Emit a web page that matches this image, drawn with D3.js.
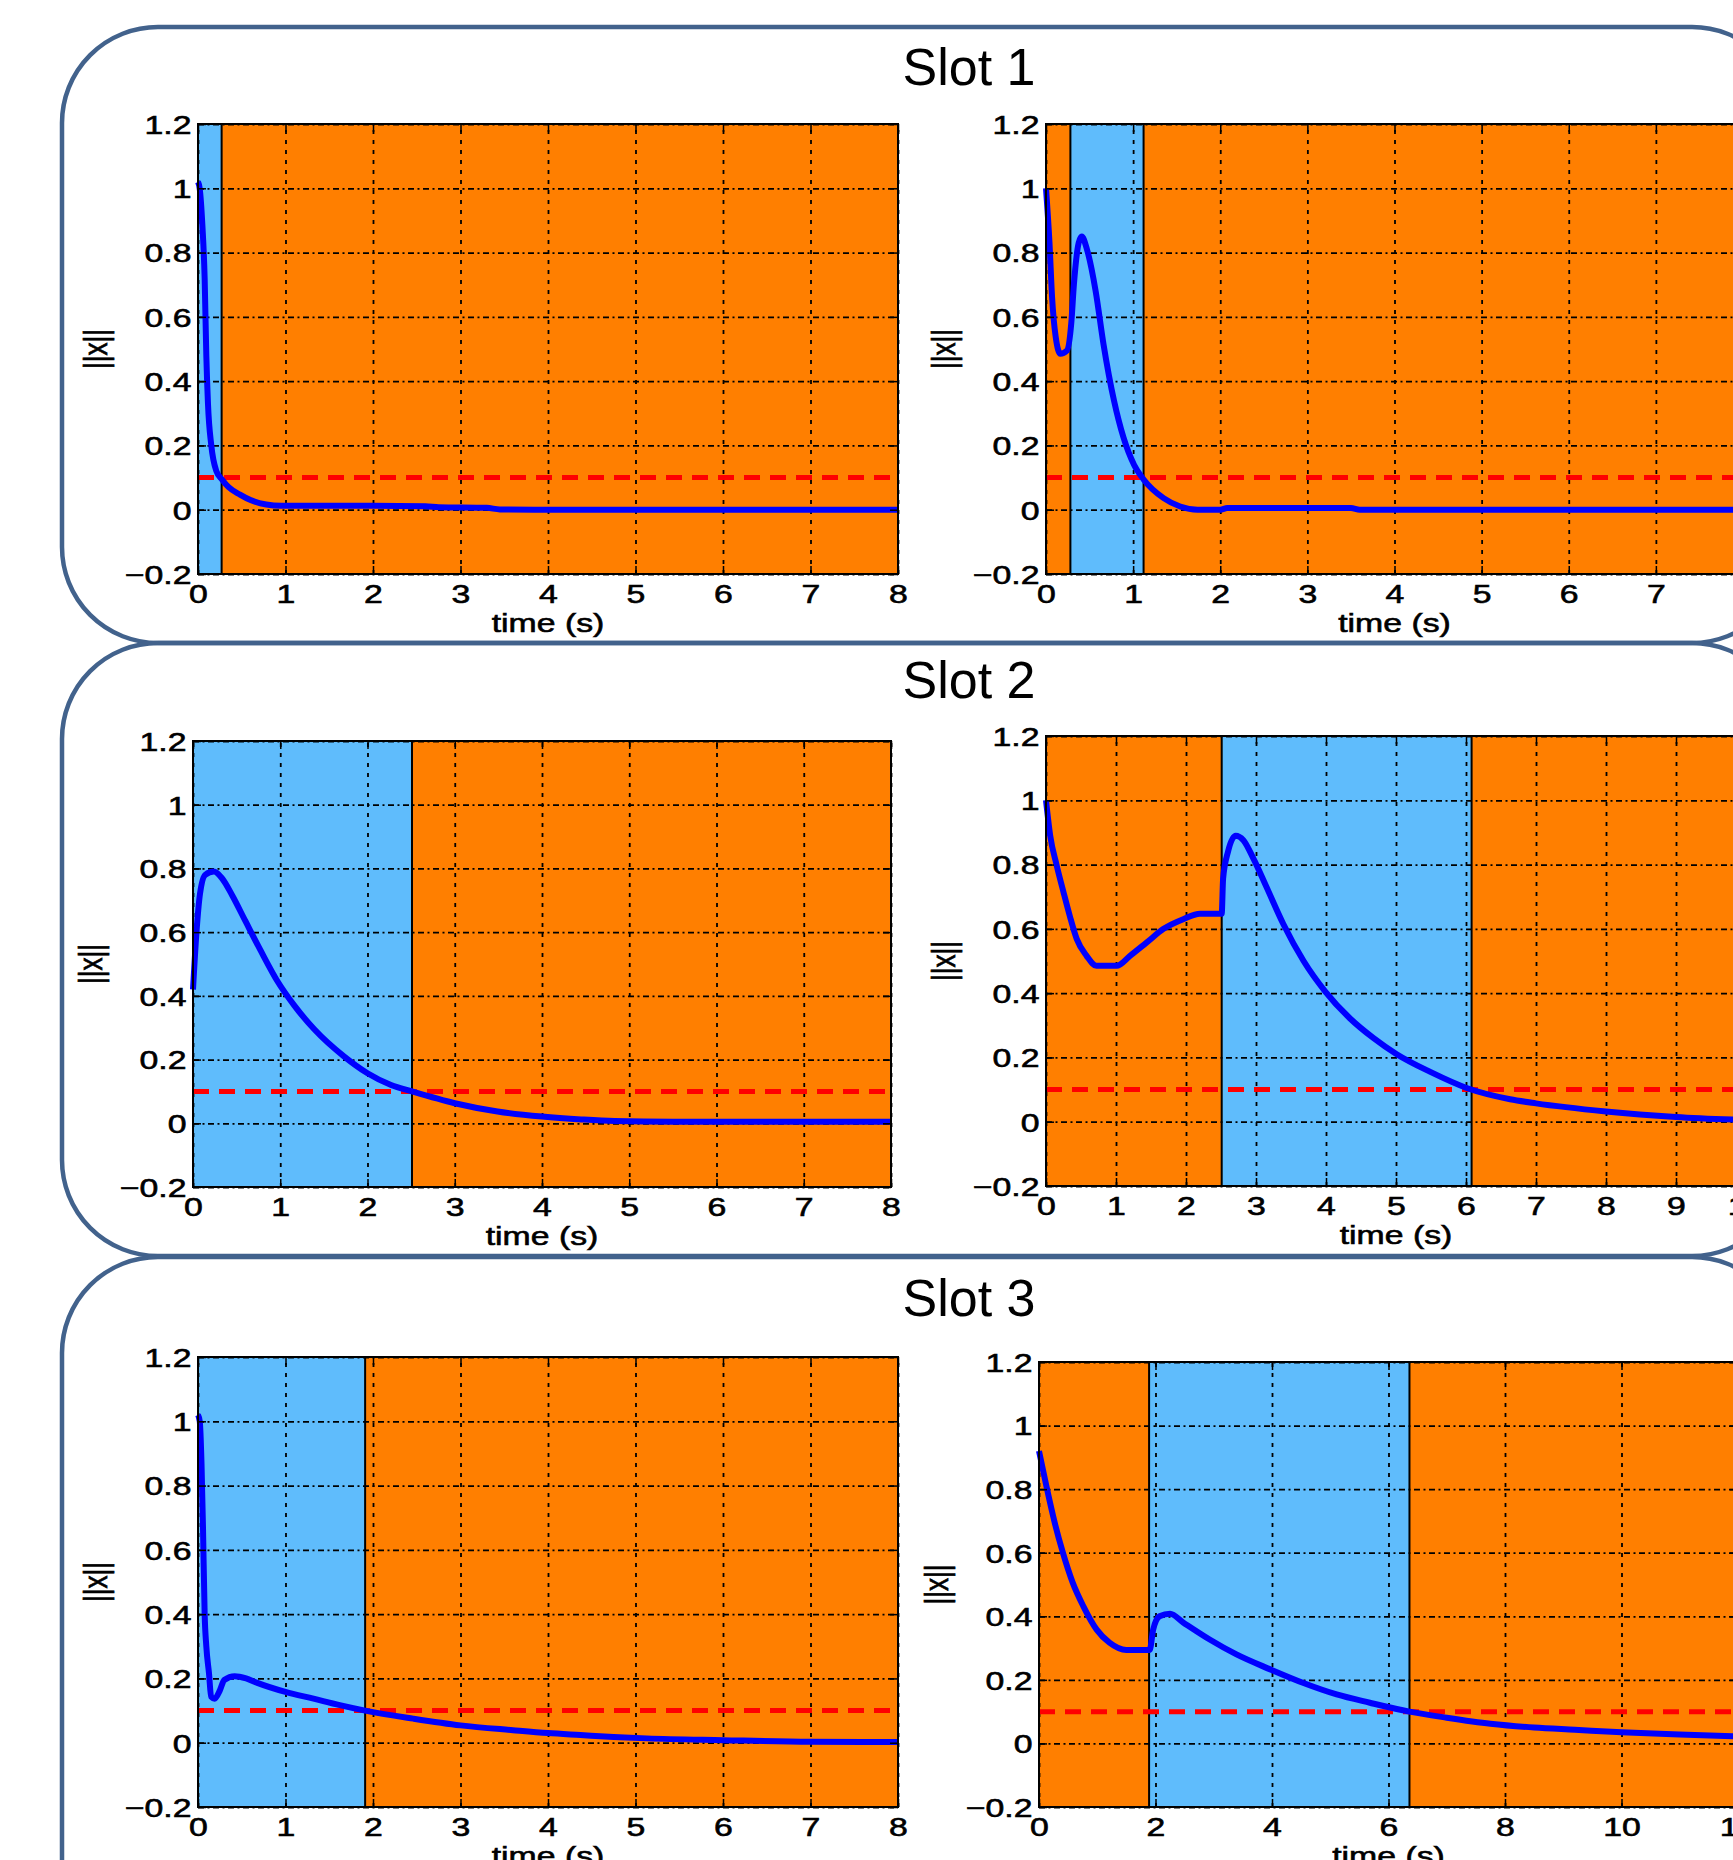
<!DOCTYPE html>
<html>
<head>
<meta charset="utf-8">
<script src="https://cdn.jsdelivr.net/npm/d3@7"></script>
<style>
  body { margin: 0; background: #fff; }
  text { font-family: "Liberation Sans", Arial, sans-serif; }
</style>
</head>
<body>
<div id="chart"></div>
<script>
// values: three slots, two runs each (a = left, b = right)
const slotTitles = ["Slot 1", "Slot 2", "Slot 3"];
const yTickValues = [-0.2, 0, 0.2, 0.4, 0.6, 0.8, 1, 1.2];
const yTickLabels = ["\u22120.2", "0", "0.2", "0.4", "0.6", "0.8", "1", "1.2"];
const threshold = 0.1;

// mode 1 = light blue band, mode 2 = orange band
const s1aXTicks = [0, 1, 2, 3, 4, 5, 6, 7, 8];
const s1aModes = [1, 2];
const s1aSwitch = [0.27];
const s1aTime = [0, 0.019, 0.05, 0.076, 0.095, 0.114, 0.152, 0.21, 0.274, 0.35, 0.48, 0.6, 0.78, 0.95, 1.5, 2.0, 2.6, 2.75, 3.3, 3.45, 4, 5, 6, 7, 8];
const s1aNorm = [1.02, 1.0, 0.885, 0.72, 0.48, 0.33, 0.2, 0.12, 0.094, 0.07, 0.047, 0.03, 0.016, 0.012, 0.012, 0.012, 0.011, 0.008, 0.006, 0.001, 0, 0, 0, 0, 0];

const s1bXTicks = [0, 1, 2, 3, 4, 5, 6, 7, 8];
const s1bModes = [2, 1, 2];
const s1bSwitch = [0.28, 1.12];
const s1bTime = [0, 0.04, 0.07, 0.11, 0.165, 0.24, 0.29, 0.32, 0.375, 0.41, 0.47, 0.57, 0.66, 0.78, 0.89, 1.01, 1.12, 1.35, 1.54, 1.74, 2.0, 2.08, 3.5, 3.6, 5, 8];
const s1bNorm = [1.0, 0.83, 0.66, 0.54, 0.485, 0.495, 0.58, 0.70, 0.83, 0.85, 0.81, 0.68, 0.515, 0.34, 0.224, 0.14, 0.094, 0.036, 0.01, 0.0, 0.0, 0.005, 0.005, 0.0, 0, 0];

const s2aXTicks = [0, 1, 2, 3, 4, 5, 6, 7, 8];
const s2aModes = [1, 2];
const s2aSwitch = [2.51];
const s2aTime = [0, 0.04, 0.08, 0.14, 0.24, 0.33, 0.45, 0.6, 0.77, 0.97, 1.16, 1.39, 1.73, 2.0, 2.27, 2.51, 3.0, 3.49, 4.0, 4.45, 4.83, 5.5, 6, 7, 8];
const s2aNorm = [0.42, 0.60, 0.72, 0.78, 0.79, 0.77, 0.715, 0.635, 0.545, 0.445, 0.37, 0.295, 0.21, 0.157, 0.12, 0.10, 0.063, 0.037, 0.021, 0.012, 0.007, 0.005, 0.005, 0.005, 0.005];

const s2bXTicks = [0, 1, 2, 3, 4, 5, 6, 7, 8, 9, 10];
const s2bModes = [2, 1, 2];
const s2bSwitch = [2.51, 6.08];
const s2bTime = [0, 0.06, 0.15, 0.25, 0.34, 0.44, 0.58, 0.72, 1.01, 1.2, 1.44, 1.68, 1.96, 2.2, 2.51, 2.53, 2.6, 2.71, 2.82, 2.96, 3.15, 3.39, 3.68, 3.99, 4.34, 4.68, 5.01, 5.49, 6.01, 6.63, 7, 8, 9, 10];
const s2bNorm = [1.0, 0.89, 0.80, 0.714, 0.64, 0.568, 0.516, 0.485, 0.485, 0.516, 0.558, 0.60, 0.63, 0.647, 0.647, 0.756, 0.84, 0.89, 0.876, 0.82, 0.73, 0.615, 0.50, 0.405, 0.322, 0.26, 0.21, 0.155, 0.105, 0.07, 0.057, 0.032, 0.015, 0.005];

const s3aXTicks = [0, 1, 2, 3, 4, 5, 6, 7, 8];
const s3aModes = [1, 2];
const s3aSwitch = [1.91];
const s3aTime = [0, 0.02, 0.04, 0.057, 0.076, 0.095, 0.126, 0.15, 0.19, 0.25, 0.3, 0.42, 0.55, 0.67, 1.0, 1.32, 1.62, 1.91, 2.46, 3.0, 3.6, 4.0, 4.37, 4.75, 5.13, 6, 7, 8];
const s3aNorm = [1.02, 1.0, 0.87, 0.67, 0.40, 0.30, 0.215, 0.143, 0.137, 0.163, 0.195, 0.207, 0.2, 0.187, 0.158, 0.137, 0.117, 0.10, 0.075, 0.054, 0.039, 0.03, 0.024, 0.018, 0.0135, 0.008, 0.003, 0.002];

const s3bXTicks = [0, 2, 4, 6, 8, 10, 12];
const s3bModes = [2, 1, 2];
const s3bSwitch = [1.89, 6.36];
const s3bTime = [0, 0.126, 0.27, 0.41, 0.58, 0.76, 0.99, 1.21, 1.5, 1.9, 1.96, 2.07, 2.25, 2.48, 2.93, 3.39, 3.97, 4.54, 5.11, 5.68, 6.36, 7.0, 7.75, 8.5, 9.2, 10, 11, 12];
const s3bNorm = [0.92, 0.81, 0.694, 0.60, 0.505, 0.432, 0.358, 0.317, 0.294, 0.294, 0.358, 0.40, 0.408, 0.38, 0.327, 0.28, 0.233, 0.19, 0.154, 0.128, 0.10, 0.081, 0.062, 0.05, 0.043, 0.035, 0.028, 0.022];

const panels = [
  { xTicks: s1aXTicks, modes: s1aModes, sw: s1aSwitch, t: s1aTime, v: s1aNorm },
  { xTicks: s1bXTicks, modes: s1bModes, sw: s1bSwitch, t: s1bTime, v: s1bNorm },
  { xTicks: s2aXTicks, modes: s2aModes, sw: s2aSwitch, t: s2aTime, v: s2aNorm },
  { xTicks: s2bXTicks, modes: s2bModes, sw: s2bSwitch, t: s2bTime, v: s2bNorm },
  { xTicks: s3aXTicks, modes: s3aModes, sw: s3aSwitch, t: s3aTime, v: s3aNorm },
  { xTicks: s3bXTicks, modes: s3bModes, sw: s3bSwitch, t: s3bTime, v: s3bNorm }
];

// where each axes box sits on the page
const frames = [
  { left: 198, top: 124, right: 898, bottom: 574 },
  { left: 1046, top: 124, right: 1743, bottom: 574 },
  { left: 193, top: 741, right: 891, bottom: 1187 },
  { left: 1046, top: 736, right: 1746, bottom: 1186 },
  { left: 198, top: 1357, right: 898, bottom: 1807 },
  { left: 1039, top: 1362, right: 1738, bottom: 1807 }
];
const boxes = [{ y: 27, h: 616 }, { y: 643, h: 613 }, { y: 1257, h: 700 }];
const titleY = [85, 698, 1316];

const modeColor = { 1: "#5fbcfc", 2: "#ff7f00" };
const stretch = 1.3;   // the matlab figures were widened on the slide

const svg = d3.select("#chart").append("svg")
  .attr("width", 1733)
  .attr("height", 1860);

// rounded slot boxes
svg.selectAll(".slot")
  .data(boxes)
  .enter().append("rect")
  .attr("x", 62)
  .attr("y", d => d.y)
  .attr("width", 1726)
  .attr("height", d => d.h)
  .attr("rx", 96)
  .attr("fill", "none")
  .attr("stroke", "#42628c")
  .attr("stroke-width", 4.5);

svg.selectAll(".title")
  .data(slotTitles)
  .enter().append("text")
  .attr("x", 969)
  .attr("y", (d, i) => titleY[i])
  .attr("text-anchor", "middle")
  .style("font-size", "52px")
  .text(d => d);

panels.forEach((p, i) => {
  const f = frames[i];
  const xMax = d3.max(p.xTicks);
  const x = d3.scaleLinear().domain([0, xMax]).range([f.left, f.right]);
  const y = d3.scaleLinear().domain([-0.2, 1.2]).range([f.bottom, f.top]);
  const h = f.bottom - f.top, w = f.right - f.left;
  const g = svg.append("g");

  // mode bands
  const edges = [0, ...p.sw, xMax];
  g.selectAll(".band")
    .data(p.modes)
    .enter().append("rect")
    .attr("x", (m, j) => x(edges[j]))
    .attr("width", (m, j) => x(edges[j + 1]) - x(edges[j]))
    .attr("y", y(1.2))
    .attr("height", h)
    .attr("fill", m => modeColor[m]);

  // dotted grid
  g.append("g")
    .attr("transform", `translate(0,${f.bottom})`)
    .call(d3.axisBottom(x).tickValues(p.xTicks).tickSize(-h).tickFormat(""))
    .call(a => a.select(".domain").remove())
    .selectAll("line")
    .attr("stroke", "#000")
    .attr("stroke-width", 1.8)
    .attr("stroke-dasharray", "4,6");
  g.append("g")
    .attr("transform", `translate(${f.left},0)`)
    .call(d3.axisLeft(y).tickValues(yTickValues).tickSize(-w).tickFormat(""))
    .call(a => a.select(".domain").remove())
    .selectAll("line")
    .attr("stroke", "#000")
    .attr("stroke-width", 1.8)
    .attr("stroke-dasharray", "6,3.5,2,3.5");

  // switching instants
  g.selectAll(".switch")
    .data(p.sw)
    .enter().append("line")
    .attr("x1", d => x(d)).attr("x2", d => x(d))
    .attr("y1", y(1.2)).attr("y2", y(-0.2))
    .attr("stroke", "#000")
    .attr("stroke-width", 2);

  // threshold
  g.append("line")
    .attr("x1", x(0)).attr("x2", x(xMax))
    .attr("y1", y(threshold)).attr("y2", y(threshold))
    .attr("stroke", "#ff0000")
    .attr("stroke-width", 5)
    .attr("stroke-dasharray", "16,10");

  // ||x|| trajectory
  const pts = p.t.map((t, k) => ({ t: t, v: p.v[k] }));
  g.append("path")
    .datum(pts)
    .attr("fill", "none")
    .attr("stroke", "#0000ff")
    .attr("stroke-width", 6)
    .attr("stroke-linejoin", "round")
    .attr("d", d3.line().x(d => x(d.t)).y(d => y(d.v)).curve(d3.curveMonotoneX));

  // box + inward ticks
  g.append("rect")
    .attr("x", f.left).attr("y", f.top)
    .attr("width", w).attr("height", h)
    .attr("fill", "none")
    .attr("stroke", "#000")
    .attr("stroke-width", 2);

  const bottomAx = g.append("g")
    .attr("transform", `translate(0,${f.bottom})`)
    .call(d3.axisBottom(x).tickValues(p.xTicks).tickSizeInner(-8).tickSizeOuter(0).tickFormat(d3.format("d")));
  bottomAx.select(".domain").remove();
  bottomAx.attr("font-family", null).attr("font-size", null);
  bottomAx.selectAll("line").attr("stroke-width", 1.5);
  bottomAx.selectAll("text")
    .attr("y", 29).attr("dy", null)
    .attr("fill", "#000")
    .attr("stroke", "#000")
    .attr("stroke-width", 0.6)
    .attr("transform", `scale(${stretch},1)`)
    .style("font-size", "26px");

  const leftAx = g.append("g")
    .attr("transform", `translate(${f.left},0)`)
    .call(d3.axisLeft(y).tickValues(yTickValues).tickSizeInner(-8).tickSizeOuter(0)
      .tickFormat((d, k) => yTickLabels[k]));
  leftAx.select(".domain").remove();
  leftAx.attr("font-family", null).attr("font-size", null);
  leftAx.selectAll("line").attr("stroke-width", 1.5);
  leftAx.selectAll("text")
    .attr("x", -5).attr("dy", "0.36em")
    .attr("fill", "#000")
    .attr("stroke", "#000")
    .attr("stroke-width", 0.6)
    .attr("transform", `scale(${stretch},1)`)
    .style("font-size", "26px");

  g.append("g")
    .attr("transform", `translate(0,${f.top})`)
    .call(d3.axisTop(x).tickValues(p.xTicks).tickSizeInner(-8).tickSizeOuter(0).tickFormat(""))
    .call(a => a.select(".domain").remove())
    .selectAll("line").attr("stroke-width", 1.5);
  g.append("g")
    .attr("transform", `translate(${f.right},0)`)
    .call(d3.axisRight(y).tickValues(yTickValues).tickSizeInner(-8).tickSizeOuter(0).tickFormat(""))
    .call(a => a.select(".domain").remove())
    .selectAll("line").attr("stroke-width", 1.5);

  // axis labels
  g.append("text")
    .attr("transform", `translate(${(f.left + f.right) / 2},${f.bottom + 58}) scale(${stretch},1)`)
    .attr("text-anchor", "middle")
    .attr("stroke", "#000")
    .attr("stroke-width", 0.6)
    .style("font-size", "26px")
    .text("time (s)");
  g.append("text")
    .attr("transform", `translate(${f.left - 91},${(f.top + f.bottom) / 2}) scale(${stretch},1) rotate(-90)`)
    .attr("text-anchor", "middle")
    .attr("stroke", "#000")
    .attr("stroke-width", 0.6)
    .style("font-size", "26px")
    .text("||x||");
});
</script>
</body>
</html>
